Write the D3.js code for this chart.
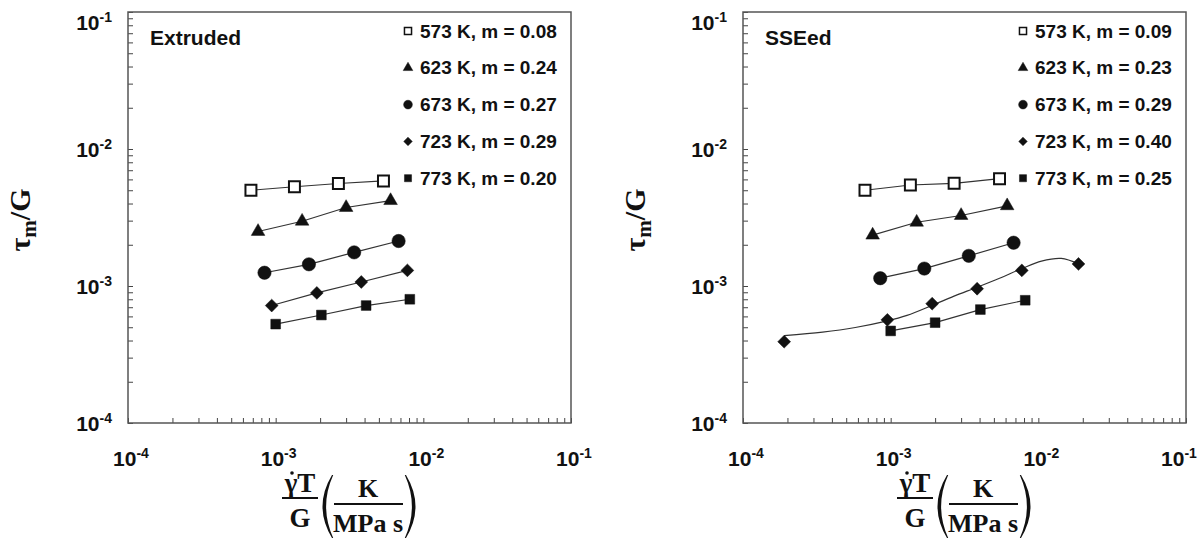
<!DOCTYPE html>
<html>
<head>
<meta charset="utf-8">
<script src="https://cdn.jsdelivr.net/npm/d3@7"></script>
<style>
  body { margin: 0; background: #fff; }
  svg { display: block; }
</style>
</head>
<body>
<div id="c1"></div>
<script>
// Data
var temps = ["573 K", "623 K", "673 K", "723 K", "773 K"];
var mExtruded = ["0.08", "0.24", "0.27", "0.29", "0.20"];
var mSSEed = ["0.09", "0.23", "0.29", "0.40", "0.25"];
var tickExp = [-4, -3, -2, -1];

var extX = [
    [6.8e-4, 1.34e-3, 2.66e-3, 5.37e-3],
    [7.6e-4, 1.51e-3, 3.0e-3, 6.0e-3],
    [8.4e-4, 1.68e-3, 3.4e-3, 6.8e-3],
    [9.4e-4, 1.9e-3, 3.8e-3, 7.8e-3],
    [1.0e-3, 2.04e-3, 4.1e-3, 8.1e-3]
];
var extY = [
    [5.0e-3, 5.3e-3, 5.6e-3, 5.85e-3],
    [2.5e-3, 2.97e-3, 3.74e-3, 4.2e-3],
    [1.25e-3, 1.44e-3, 1.76e-3, 2.13e-3],
    [7.2e-4, 8.9e-4, 1.07e-3, 1.3e-3],
    [5.27e-4, 6.14e-4, 7.2e-4, 8.0e-4]
];
var sseX = [
    [6.7e-4, 1.36e-3, 2.69e-3, 5.46e-3],
    [7.55e-4, 1.5e-3, 3.0e-3, 6.15e-3],
    [8.5e-4, 1.69e-3, 3.38e-3, 6.8e-3],
    [1.9e-4, 9.5e-4, 1.91e-3, 3.85e-3, 7.73e-3, 1.87e-2],
    [1.0e-3, 2.0e-3, 4.05e-3, 8.15e-3]
];
var sseY = [
    [5.0e-3, 5.46e-3, 5.62e-3, 6.07e-3],
    [2.35e-3, 2.92e-3, 3.27e-3, 3.85e-3],
    [1.14e-3, 1.34e-3, 1.66e-3, 2.07e-3],
    [3.92e-4, 5.66e-4, 7.43e-4, 9.55e-4, 1.3e-3, 1.45e-3],
    [4.7e-4, 5.4e-4, 6.73e-4, 7.87e-4]
];
// smooth trend drawn through the 723 K SSEed points
var fitX = [1.9e-4, 3.46e-4, 5.76e-4, 9.5e-4, 1.29e-3, 1.91e-3, 2.66e-3, 3.85e-3, 5.46e-3, 7.73e-3, 1.05e-2, 1.43e-2, 1.87e-2];
var fitY = [4.35e-4, 4.61e-4, 4.98e-4, 5.56e-4, 6.1e-4, 7.22e-4, 8.4e-4, 9.8e-4, 1.14e-3, 1.34e-3, 1.52e-3, 1.59e-3, 1.45e-3];

var W = 1203, H = 541;
var sans = "'Liberation Sans', Arial, sans-serif";
var serif = "'Liberation Serif', 'Times New Roman', serif";
var ink = "#111";

var svg = d3.select("#c1").append("svg")
    .attr("width", W)
    .attr("height", H);

// marker shapes per series
var shapes = [
    { type: d3.symbolSquare, size: 120, fill: "#fff", rot: 0 },
    { type: d3.symbolTriangle, size: 80, fill: ink, rot: 0 },
    { type: d3.symbolCircle, size: 140, fill: ink, rot: 0 },
    { type: d3.symbolSquare, size: 82, fill: ink, rot: 45 },
    { type: d3.symbolSquare, size: 95, fill: ink, rot: 0 }
];
var legendSize = [50, 40, 60, 36, 50];

// big round bracket as a filled crescent, dir = 1 for "(" and -1 for ")"
function paren(px, top, bot, dir) {
    var mid = (top + bot) / 2;
    var p = d3.path();
    p.moveTo(px, top);
    p.quadraticCurveTo(px - dir * 19, mid, px, bot);
    p.lineTo(px + dir * 1.2, bot);
    p.quadraticCurveTo(px - dir * 13, mid, px + dir * 1.2, top);
    p.closePath();
    return p.toString();
}

function drawPanel(left, label, mList, xs, ys, fit) {
    var x0 = left, x1 = left + 443, y0 = 12, y1 = 423;
    var x = d3.scaleLog().domain([1e-4, 1e-1]).range([x0, x1]);
    var y = d3.scaleLog().domain([1e-4, 1e-1]).range([y1, y0]);
    var g = svg.append("g");

    var ticks = [];
    [-4, -3, -2].forEach(function (e) {
        for (var k = 1; k < 10; k++) ticks.push(k * Math.pow(10, e));
    });
    ticks.push(1e-1);

    g.append("g")
        .attr("transform", "translate(0," + y1 + ")")
        .call(d3.axisBottom(x).tickValues(ticks).tickSizeInner(-5).tickSizeOuter(0).tickFormat(""))
        .call(function (a) { a.selectAll("line").attr("stroke", "#444"); a.select(".domain").remove(); });
    g.append("g")
        .attr("transform", "translate(" + x0 + ",0)")
        .call(d3.axisLeft(y).tickValues(ticks).tickSizeInner(-5).tickSizeOuter(0).tickFormat(""))
        .call(function (a) { a.selectAll("line").attr("stroke", "#444"); a.select(".domain").remove(); });

    g.append("rect")
        .attr("x", x0).attr("y", y0)
        .attr("width", x1 - x0).attr("height", y1 - y0)
        .attr("fill", "none")
        .attr("stroke", "#555")
        .attr("stroke-width", 1.5);

    // tick labels 10^n
    tickExp.forEach(function (e) {
        var v = Math.pow(10, e);
        var lx = Math.min(x(v) + 3, W - 24);
        var tx = g.append("text")
            .attr("x", lx).attr("y", 466)
            .attr("text-anchor", "middle")
            .attr("font-family", sans).attr("font-weight", "bold")
            .attr("font-size", 21).attr("fill", ink);
        tx.append("tspan").text("10");
        tx.append("tspan").attr("dy", -8).attr("font-size", 14).text(String(e));

        var ty = g.append("text")
            .attr("x", x0 - 16).attr("y", y(v) + 8 + (e === -1 ? 10 : 0))
            .attr("text-anchor", "end")
            .attr("font-family", sans).attr("font-weight", "bold")
            .attr("font-size", 21).attr("fill", ink);
        ty.append("tspan").text("10");
        ty.append("tspan").attr("dy", -8).attr("font-size", 14).text(String(e));
    });

    // fit lines
    var line = d3.line().x(function (d) { return x(d[0]); }).y(function (d) { return y(d[1]); });
    xs.forEach(function (sx, i) {
        var pts = sx.map(function (v, j) { return [v, ys[i][j]]; });
        if (fit && i === 3) {
            pts = fit.x.map(function (v, j) { return [v, fit.y[j]]; });
            line.curve(d3.curveCatmullRom.alpha(0.5));
        } else {
            line.curve(d3.curveLinear);
        }
        g.append("path")
            .attr("d", line(pts))
            .attr("fill", "none")
            .attr("stroke", "#333")
            .attr("stroke-width", 1.2);
    });

    // markers
    xs.forEach(function (sx, i) {
        var s = shapes[i];
        g.selectAll("path.m" + i)
            .data(sx.map(function (v, j) { return [v, ys[i][j]]; }))
            .enter().append("path")
            .attr("transform", function (d) {
                return "translate(" + x(d[0]) + "," + y(d[1]) + ") rotate(" + s.rot + ")";
            })
            .attr("d", d3.symbol().type(s.type).size(s.size))
            .attr("fill", s.fill)
            .attr("stroke", ink)
            .attr("stroke-width", i === 0 ? 2 : 0.5);
    });

    // panel label
    g.append("text")
        .attr("x", x0 + 22).attr("y", 45)
        .attr("font-family", sans).attr("font-weight", "bold")
        .attr("font-size", 21).attr("fill", ink)
        .text(label);

    // legend
    temps.forEach(function (t, i) {
        var cy = 31 + i * 36.8;
        var s = shapes[i];
        g.append("path")
            .attr("transform", "translate(" + (x0 + 280) + "," + cy + ") rotate(" + s.rot + ")")
            .attr("d", d3.symbol().type(s.type).size(legendSize[i]))
            .attr("fill", s.fill)
            .attr("stroke", ink)
            .attr("stroke-width", i === 0 ? 1.5 : 0.5);
        g.append("text")
            .attr("x", x0 + 292).attr("y", cy + 6.5)
            .attr("font-family", sans).attr("font-weight", "bold")
            .attr("font-size", 19).attr("fill", ink)
            .text(t + ", m = " + mList[i]);
    });

    // y title
    var yt = g.append("text")
        .attr("transform", "translate(" + (x0 - 98) + ",220) rotate(-90)")
        .attr("text-anchor", "middle")
        .attr("font-family", serif).attr("font-weight", "bold")
        .attr("font-size", 30).attr("fill", ink);
    yt.append("tspan").text("\u03C4");
    yt.append("tspan").attr("dy", 6).attr("font-size", 21).text("m");
    yt.append("tspan").attr("dy", -6).text("/G");

    // x title: (gamma-dot T / G) (K / MPa s)
    var cx = x0 + 172;
    var xt = g.append("g")
        .attr("font-family", serif).attr("font-weight", "bold")
        .attr("fill", ink).attr("text-anchor", "middle");
    xt.append("text").attr("x", cx).attr("y", 492).attr("font-size", 27).text("\u03B3T");
    xt.append("circle").attr("cx", cx - 8).attr("cy", 473).attr("r", 1.8);
    xt.append("line").attr("x1", cx - 18).attr("x2", cx + 18)
        .attr("y1", 498).attr("y2", 498).attr("stroke", ink).attr("stroke-width", 1.8);
    xt.append("text").attr("x", cx).attr("y", 527).attr("font-size", 27).text("G");
    xt.append("path").attr("d", paren(cx + 32, 475, 538, 1));
    xt.append("text").attr("x", cx + 68).attr("y", 497).attr("font-size", 26).text("K");
    xt.append("line").attr("x1", cx + 34).attr("x2", cx + 103)
        .attr("y1", 504).attr("y2", 504).attr("stroke", ink).attr("stroke-width", 1.8);
    xt.append("text").attr("x", cx + 68).attr("y", 532).attr("font-size", 26).text("MPa s");
    xt.append("path").attr("d", paren(cx + 106, 475, 538, -1));
}

drawPanel(128, "Extruded", mExtruded, extX, extY, null);
drawPanel(743, "SSEed", mSSEed, sseX, sseY, { x: fitX, y: fitY });
</script>
</body>
</html>
